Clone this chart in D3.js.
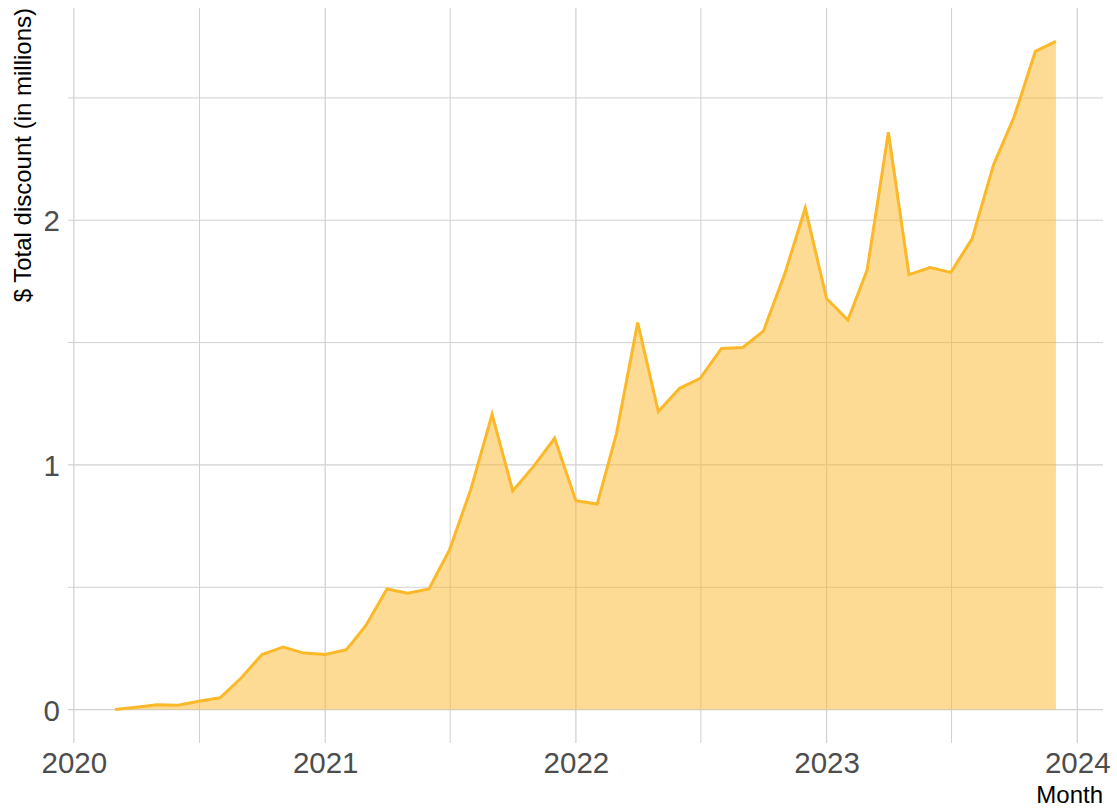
<!DOCTYPE html>
<html>
<head>
<meta charset="utf-8">
<script src="https://cdn.jsdelivr.net/npm/d3@7"></script>
<style>
  html, body { margin: 0; padding: 0; background: #fff; }
  svg { display: block; font-family: "Liberation Sans", Arial, sans-serif; }
</style>
</head>
<body>
<svg id="chart" width="1117" height="809"></svg>
<script>
const months = [
  "2020-03","2020-04","2020-05","2020-06","2020-07","2020-08","2020-09","2020-10","2020-11","2020-12",
  "2021-01","2021-02","2021-03","2021-04","2021-05","2021-06","2021-07","2021-08","2021-09","2021-10","2021-11","2021-12",
  "2022-01","2022-02","2022-03","2022-04","2022-05","2022-06","2022-07","2022-08","2022-09","2022-10","2022-11","2022-12",
  "2023-01","2023-02","2023-03","2023-04","2023-05","2023-06","2023-07","2023-08","2023-09","2023-10","2023-11","2023-12"
];
const discount = [
  0.000, 0.010, 0.020, 0.018, 0.034, 0.048, 0.130, 0.225, 0.256, 0.231,
  0.225, 0.245, 0.343, 0.493, 0.476, 0.493, 0.653, 0.900, 1.207, 0.894, 0.996, 1.109,
  0.854, 0.840, 1.127, 1.582, 1.218, 1.313, 1.354, 1.476, 1.480, 1.547, 1.780, 2.050,
  1.680, 1.592, 1.796, 2.360, 1.778, 1.807, 1.787, 1.925, 2.226, 2.422, 2.690, 2.731
];
const xTickYears = ["2020","2021","2022","2023","2024"];
const xMinorDates = ["2020-07-02","2021-07-02","2022-07-02","2023-07-02"];
const yTicks = [0, 1, 2];
const yMinorTicks = [0.5, 1.5, 2.5];
const yTitle = "$ Total discount (in millions)";
const xTitle = "Month";

const parse = d3.utcParse("%Y-%m");
const data = months.map((m, i) => ({ date: parse(m), value: discount[i] }));

const panel = { left: 68, right: 1103, top: 8, bottom: 743 };
const lineColor = "#FBB829";

const svg = d3.select("#chart");

// x scale with 5% expansion of data range
const xExt = d3.extent(data, d => d.date);
const span = xExt[1] - xExt[0];
const x = d3.scaleUtc()
  .domain([new Date(+xExt[0] - 0.05 * span), new Date(+xExt[1] + 0.05 * span)])
  .range([panel.left, panel.right]);

const yMax = d3.max(data, d => d.value);
const yMin = 0;
const ySpan = yMax - yMin;
const y = d3.scaleLinear()
  .domain([yMin - 0.05 * ySpan, yMax + 0.05 * ySpan])
  .range([panel.bottom, panel.top]);

const grid = svg.append("g").attr("class", "grid");
const gridColor = "#d0d0d0";

// minor gridlines
grid.selectAll("line.ymin").data(yMinorTicks).join("line")
  .attr("x1", panel.left).attr("x2", panel.right)
  .attr("y1", d => y(d)).attr("y2", d => y(d))
  .attr("stroke", gridColor).attr("stroke-width", 1);
grid.selectAll("line.xmin").data(xMinorDates.map(d => d3.utcParse("%Y-%m-%d")(d))).join("line")
  .attr("x1", d => x(d)).attr("x2", d => x(d))
  .attr("y1", panel.top).attr("y2", panel.bottom)
  .attr("stroke", gridColor).attr("stroke-width", 1);

// major gridlines
grid.selectAll("line.ymaj").data(yTicks).join("line")
  .attr("x1", panel.left).attr("x2", panel.right)
  .attr("y1", d => y(d)).attr("y2", d => y(d))
  .attr("stroke", gridColor).attr("stroke-width", 1.2);
const yearDates = xTickYears.map(d => d3.utcParse("%Y")(d));
grid.selectAll("line.xmaj").data(yearDates).join("line")
  .attr("x1", d => x(d)).attr("x2", d => x(d))
  .attr("y1", panel.top).attr("y2", panel.bottom)
  .attr("stroke", gridColor).attr("stroke-width", 1.2);

// area
const area = d3.area()
  .x(d => x(d.date))
  .y0(y(0))
  .y1(d => y(d.value));
svg.append("path").datum(data)
  .attr("d", area)
  .attr("fill", lineColor)
  .attr("fill-opacity", 0.5);

const line = d3.line()
  .x(d => x(d.date))
  .y(d => y(d.value));
svg.append("path").datum(data)
  .attr("d", line)
  .attr("fill", "none")
  .attr("stroke", lineColor)
  .attr("stroke-width", 3)
  .attr("stroke-linejoin", "miter");

// axes (labels only, using d3 axis generators)
const xAxis = d3.axisBottom(x).tickValues(yearDates).tickFormat(d3.utcFormat("%Y")).tickSize(0).tickPadding(0);
const gx = svg.append("g").attr("transform", `translate(0, ${panel.bottom})`).call(xAxis);
gx.select(".domain").remove();
gx.selectAll("text")
  .attr("y", 30).attr("dy", 0)
  .attr("fill", "#4d4d4d")
  .style("font-size", "29.5px")
  .style("font-family", "'Liberation Sans', Arial, sans-serif");

const yAxis = d3.axisLeft(y).tickValues(yTicks).tickFormat(d3.format("d")).tickSize(0).tickPadding(8);
const gy = svg.append("g").attr("transform", `translate(${panel.left}, 0)`).call(yAxis);
gy.select(".domain").remove();
gy.selectAll("text")
  .attr("dy", "0.36em")
  .attr("fill", "#4d4d4d")
  .style("font-size", "29.5px")
  .style("font-family", "'Liberation Sans', Arial, sans-serif");

// titles
svg.append("text")
  .attr("transform", `translate(31, ${panel.top}) rotate(-90)`)
  .attr("text-anchor", "end")
  .attr("fill", "#000")
  .style("font-size", "24px")
  .text(yTitle);

svg.append("text")
  .attr("x", panel.right)
  .attr("y", 803)
  .attr("text-anchor", "end")
  .attr("fill", "#000")
  .style("font-size", "24px")
  .text(xTitle);
</script>
</body>
</html>
